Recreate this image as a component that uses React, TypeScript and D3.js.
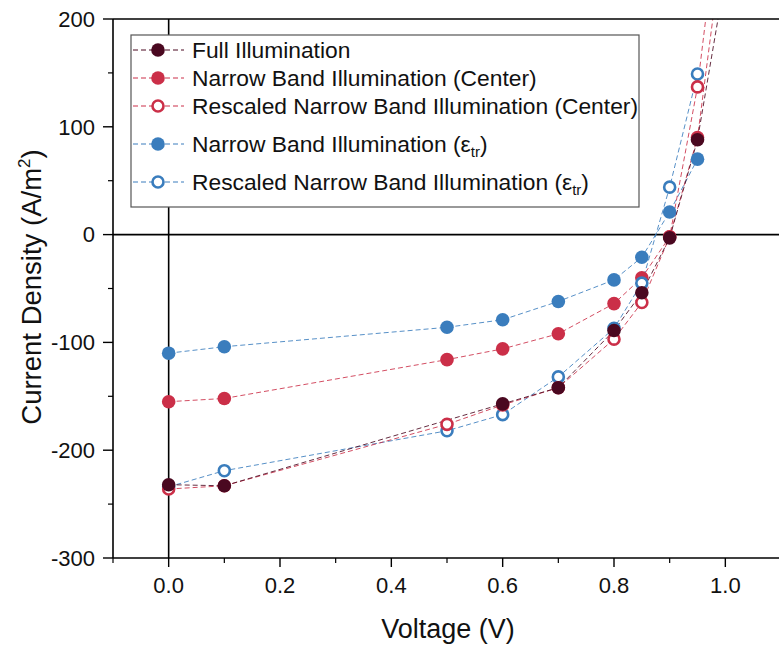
import React from "react";
import * as d3 from "d3";

const W = 779;
const H = 648;

// Data (Voltage in V, Current Density in A/m^2)
const fullV = [0, 0.1, 0.6, 0.7, 0.8, 0.85, 0.9, 0.95, 1.0];
const fullJ = [-232, -233, -157, -142, -89, -54, -3, 88, 240];

const centerV = [0, 0.1, 0.5, 0.6, 0.7, 0.8, 0.85, 0.9, 0.95, 1.0];
const centerJ = [-155, -152, -116, -106, -92, -64, -40, -2, 90, 290];

const rescCenterV = [0, 0.1, 0.5, 0.6, 0.7, 0.8, 0.85, 0.9, 0.95, 1.0];
const rescCenterJ = [-236, -233, -176, -158, -142, -97, -63, -2, 137, 350];

const epsV = [0, 0.1, 0.5, 0.6, 0.7, 0.8, 0.85, 0.9, 0.95];
const epsJ = [-110, -104, -86, -79, -62, -42, -21, 21, 70];

const rescEpsV = [0, 0.1, 0.5, 0.6, 0.7, 0.8, 0.85, 0.9, 0.95];
const rescEpsJ = [-234, -219, -182, -167, -132, -87, -45, 44, 149];

const xTicks = [0, 0.2, 0.4, 0.6, 0.8, 1.0];
const yTicks = [-300, -200, -100, 0, 100, 200];

const DARK = "#4a0820";
const RED = "#cb2f48";
const BLUE = "#3a7dbd";

type Series = { key: string; v: number[]; j: number[]; color: string; open: boolean; label: string; sub: boolean };

const series: Series[] = [
  { key: "center", v: centerV, j: centerJ, color: RED, open: false, label: "Narrow Band Illumination (Center)", sub: false },
  { key: "eps", v: epsV, j: epsJ, color: BLUE, open: false, label: "Narrow Band Illumination (", sub: true },
  { key: "rescEps", v: rescEpsV, j: rescEpsJ, color: BLUE, open: true, label: "Rescaled Narrow Band Illumination (", sub: true },
  { key: "rescCenter", v: rescCenterV, j: rescCenterJ, color: RED, open: true, label: "Rescaled Narrow Band Illumination (Center)", sub: false },
  { key: "full", v: fullV, j: fullJ, color: DARK, open: false, label: "Full Illumination", sub: false },
];

const legendOrder = ["full", "center", "rescCenter", "eps", "rescEps"];
const legendY = [50, 78, 106, 144, 182];

export default function App() {
  const left = 113;
  const right = 781;
  const top = 19;
  const bottom = 558;
  const x = d3.scaleLinear().domain([-0.1, 1.1]).range([left, right]);
  const y = d3.scaleLinear().domain([-300, 200]).range([bottom, top]);
  const line = d3
    .line<[number, number]>()
    .x((d) => x(d[0]))
    .y((d) => y(d[1]));

  const xMinor = d3.range(-0.1, 1.11, 0.1).filter((t) => !xTicks.some((m) => Math.abs(m - t) < 1e-6));
  const yMinor = d3.range(-250, 200, 100);
  const font = "'Liberation Sans', Arial, sans-serif";
  const r = 6.8;

  return (
    <svg
      width={W}
      height={H}
      style={{ position: "absolute", left: 0, top: 0, background: "#fff" }}
      fontFamily={font}
    >
      <defs>
        <clipPath id="plot">
          <rect x={left} y={top} width={right - left} height={bottom - top} />
        </clipPath>
      </defs>
      {/* zero lines */}
      <line x1={left} x2={right} y1={y(0)} y2={y(0)} stroke="#000" strokeWidth={1.6} />
      <line x1={x(0)} x2={x(0)} y1={top} y2={bottom} stroke="#000" strokeWidth={1.6} />

      {/* series */}
      <g clipPath="url(#plot)">
        {series.map((s) => (
          <path
            key={s.key + "l"}
            d={line(s.v.map((v, i) => [v, s.j[i]]) as [number, number][]) || ""}
            fill="none"
            stroke={s.color}
            strokeWidth={1}
            strokeDasharray="5,3"
            opacity={0.85}
          />
        ))}
        {series.map((s) => (
          <g key={s.key + "m"}>
            {s.v.map((v, i) => (
              <circle
                key={i}
                cx={x(v)}
                cy={y(s.j[i])}
                r={s.open ? r - 1.3 : r}
                fill={s.open ? "#fff" : s.color}
                stroke={s.color}
                strokeWidth={s.open ? 2.6 : 0}
              />
            ))}
          </g>
        ))}
      </g>

      {/* frame */}
      <line x1={left} x2={right} y1={top} y2={top} stroke="#000" strokeWidth={1.6} />
      <line x1={left} x2={right} y1={bottom} y2={bottom} stroke="#000" strokeWidth={1.6} />
      <line x1={left} x2={left} y1={top} y2={bottom} stroke="#000" strokeWidth={1.6} />

      {/* y ticks */}
      {yTicks.map((t) => (
        <g key={"y" + t}>
          <line x1={left - 10} x2={left} y1={y(t)} y2={y(t)} stroke="#000" strokeWidth={1.4} />
          <text x={left - 18} y={y(t)} dy="0.35em" textAnchor="end" fontSize={22} fill="#111">
            {t}
          </text>
        </g>
      ))}
      {yMinor.map((t) => (
        <line key={"ym" + t} x1={left - 5} x2={left} y1={y(t)} y2={y(t)} stroke="#000" strokeWidth={1.2} />
      ))}
      {/* x ticks */}
      {xTicks.map((t) => (
        <g key={"x" + t}>
          <line x1={x(t)} x2={x(t)} y1={bottom} y2={bottom + 9} stroke="#000" strokeWidth={1.4} />
          <text x={x(t)} y={bottom + 35} textAnchor="middle" fontSize={22} fill="#111">
            {t.toFixed(1)}
          </text>
        </g>
      ))}
      {xMinor.map((t) => (
        <line key={"xm" + t} x1={x(t)} x2={x(t)} y1={bottom} y2={bottom + 5} stroke="#000" strokeWidth={1.2} />
      ))}

      {/* axis titles */}
      <text x={448} y={638} textAnchor="middle" fontSize={27} fill="#111">
        Voltage (V)
      </text>
      <text transform={`translate(41,287) rotate(-90)`} textAnchor="middle" fontSize={27.5} fill="#111">
        Current Density (A/m<tspan fontSize={17} dy={-11}>2</tspan>
        <tspan dy={11}>)</tspan>
      </text>

      {/* legend */}
      <rect x={131} y={35} width={508} height={172} fill="#fff" stroke="#555" strokeWidth={1.2} />
      {legendOrder.map((k, i) => {
        const s = series.find((q) => q.key === k)!;
        const ly = legendY[i];
        return (
          <g key={"lg" + k}>
            <line x1={133} x2={184} y1={ly} y2={ly} stroke={s.color} strokeWidth={1} strokeDasharray="5,3" />
            <circle
              cx={158}
              cy={ly}
              r={s.open ? r - 1.3 : r}
              fill={s.open ? "#fff" : s.color}
              stroke={s.color}
              strokeWidth={s.open ? 2.6 : 0}
            />
            <text x={192} y={ly} dy="0.35em" fontSize={22.8} fill="#111">
              {s.label}
              {s.sub && (
                <>
                  ε<tspan fontSize={15} dy={5}>tr</tspan>
                  <tspan dy={-5}>)</tspan>
                </>
              )}
            </text>
          </g>
        );
      })}
    </svg>
  );
}
